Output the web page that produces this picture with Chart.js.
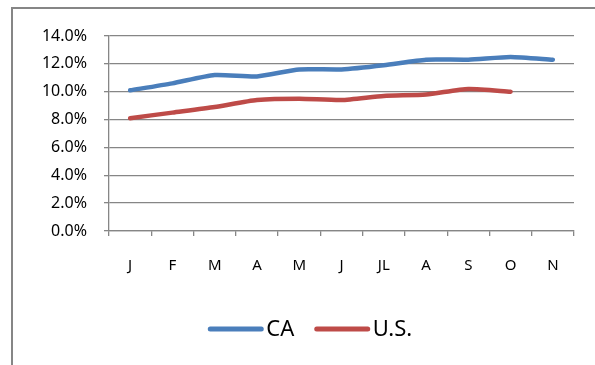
<!DOCTYPE html>
<html>
<head>
<meta charset="utf-8">
<script src="https://cdn.jsdelivr.net/npm/chart.js@4/dist/chart.umd.min.js"></script>
<style>
  html, body { margin: 0; padding: 0; background: #fff; }
  #wrap { position: relative; width: 595px; height: 365px; overflow: hidden; }
  #frame { position: absolute; left: 11px; top: 7px; width: 700px; height: 500px;
           border-left: 2px solid #868686; border-top: 2px solid #868686; box-sizing: border-box; }
  canvas { position: absolute; left: 0; top: 0; }
</style>
</head>
<body>
<div id="wrap">
  <div id="frame"></div>
  <canvas id="c" width="595" height="365"></canvas>
</div>
<script>
// Monthly unemployment rate (%), California vs. United States
const months = ['J', 'F', 'M', 'A', 'M', 'J', 'JL', 'A', 'S', 'O', 'N'];
const caRate = [10.1, 10.6, 11.2, 11.1, 11.6, 11.6, 11.9, 12.3, 12.3, 12.5, 12.3];
const usRate = [8.1, 8.5, 8.9, 9.4, 9.5, 9.4, 9.7, 9.8, 10.2, 10.0, null];
const seriesNames = ['CA', 'U.S.'];
const seriesColors = ['#4A7EBB', '#BE4B48'];

const FONT = '"Noto Sans", "Open Sans", sans-serif';
const GRID = '#868686';

// Legend drawn below the plot: line swatch followed directly by the label
const lineLegend = {
  id: 'lineLegend',
  afterDraw(chart) {
    const ctx = chart.ctx;
    const ds = chart.data.datasets;
    const swatch = 56, gapAfterSwatch = 2.5, gapBetween = 20;
    ctx.save();
    ctx.font = '22px ' + FONT;
    ctx.textBaseline = 'middle';
    const widths = ds.map(d => swatch + gapAfterSwatch + ctx.measureText(d.label).width);
    const total = widths.reduce((a, b) => a + b, 0) + gapBetween * (ds.length - 1);
    let x = 310 - total / 2;
    const y = 329;
    ds.forEach((d, i) => {
      ctx.strokeStyle = d.borderColor;
      ctx.lineWidth = 5;
      ctx.lineCap = 'round';
      ctx.beginPath();
      ctx.moveTo(x + 2.5, y);
      ctx.lineTo(x + swatch - 2.5, y);
      ctx.stroke();
      ctx.fillStyle = '#000';
      ctx.fillText(d.label, x + swatch + gapAfterSwatch, y + 1);
      x += widths[i] + gapBetween;
    });
    ctx.restore();
  }
};

new Chart(document.getElementById('c'), {
  type: 'line',
  data: {
    labels: months,
    datasets: [
      { label: seriesNames[0], data: caRate, borderColor: seriesColors[0], backgroundColor: seriesColors[0] },
      { label: seriesNames[1], data: usRate, borderColor: seriesColors[1], backgroundColor: seriesColors[1] }
    ]
  },
  options: {
    responsive: false,
    animation: false,
    devicePixelRatio: 1,
    layout: { padding: { left: 0, right: 21, top: 36, bottom: 84 } },
    elements: {
      line: { borderWidth: 4.5, tension: 0.2, borderCapStyle: 'round', borderJoinStyle: 'round', fill: false },
      point: { radius: 0, hoverRadius: 0 }
    },
    plugins: {
      legend: { display: false },
      tooltip: { enabled: false }
    },
    scales: {
      x: {
        offset: true,
        grid: { offset: true, drawOnChartArea: false, tickLength: 5, color: GRID, lineWidth: 1.3 },
        border: { display: true, color: GRID, width: 1.3 },
        ticks: { color: '#000', font: { family: FONT, size: 15 }, padding: 21, maxRotation: 0, autoSkip: false },
        afterFit(s) { s.height = 50; }
      },
      y: {
        min: 0,
        max: 14,
        ticks: {
          stepSize: 2,
          color: '#000',
          font: { family: FONT, size: 16 },
          padding: 17,
          callback: v => v.toFixed(1) + '%'
        },
        grid: { color: GRID, lineWidth: 1.3, tickLength: 5 },
        border: { display: true, color: GRID, width: 1.3 },
        afterFit(s) { s.width = 109; }
      }
    }
  },
  plugins: [lineLegend]
});
</script>
</body>
</html>
